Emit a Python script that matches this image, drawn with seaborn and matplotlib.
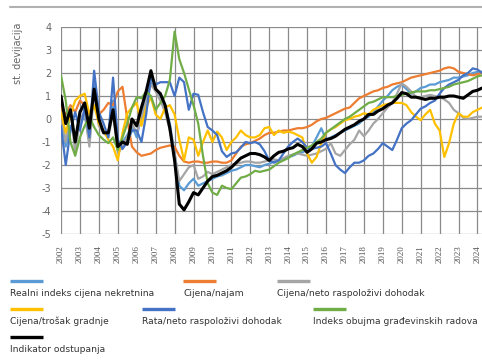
import numpy as np
import pandas as pd
import matplotlib
matplotlib.use("Agg")
import matplotlib.pyplot as plt
from matplotlib.lines import Line2D
import seaborn as sns

# ---------------- data (quarterly, 2002Q1 .. 2024Q2) ----------------
start_period = "2002Q1"
n_quarters = 90

realni_indeks = [
    0.2, -1.2, -0.3, -0.8,
    -0.3, 0.2, -1.0, 1.5,
    -0.2, -0.5, -0.7, 0.8,
    -1.3, -1.0, -0.7, -0.3,
    -0.8, 0.2, 0.9, 1.6,
    1.3, 1.0, 0.6, -0.2,
    -1.5, -2.9, -3.1, -2.8,
    -2.6, -2.9, -2.8, -2.7,
    -2.6, -2.5, -2.45, -2.35,
    -2.25, -2.2, -2.1, -2.0,
    -2.0, -2.05, -2.1, -2.0,
    -1.95, -1.85, -1.8, -1.75,
    -1.65, -1.6, -1.5, -1.45,
    -1.35, -1.2, -0.8, -0.4,
    -0.9, -0.8, -0.7, -0.6,
    -0.5, -0.4, -0.3, -0.2,
    0.0, 0.1, 0.3, 0.55,
    0.8, 1.0, 1.25, 1.4,
    1.5, 1.3, 1.1, 1.2,
    1.35, 1.4, 1.5, 1.5,
    1.6, 1.65, 1.7, 1.8,
    1.8, 1.85, 1.9, 2.0,
    2.05, 2.05,
]
cijena_najam = [
    0.5, 0.2, 0.6, 0.3,
    0.8, 0.6, 0.3, 0.5,
    0.2, 0.4, 0.7, 0.6,
    1.2, 1.4, 0.0, -1.2,
    -1.45, -1.6, -1.55, -1.5,
    -1.35, -1.25, -1.2, -1.15,
    -1.2, -1.6, -1.85, -1.9,
    -1.85, -1.85, -1.9, -1.9,
    -1.85, -1.85, -1.9, -1.9,
    -1.8, -1.5, -1.2, -1.1,
    -1.05, -0.95, -0.85, -0.7,
    -0.6, -0.6, -0.55, -0.5,
    -0.5, -0.45, -0.4, -0.4,
    -0.35, -0.25, -0.1, 0.0,
    0.05, 0.15, 0.25, 0.35,
    0.45, 0.5, 0.7, 0.9,
    1.0, 1.1, 1.2, 1.25,
    1.35, 1.4, 1.5, 1.55,
    1.6, 1.7, 1.8, 1.85,
    1.9, 1.95, 2.0, 2.05,
    2.1, 2.2, 2.25, 2.2,
    2.05, 2.0, 1.95, 1.9,
    1.95, 2.0,
]
cijena_dohodak = [
    0.0, -1.0, 0.5, -1.5,
    0.0, 0.3, -1.2, 1.2,
    -0.3, -0.6, -0.8, 0.3,
    -1.5, -1.2, -0.8, -0.2,
    -0.6, 0.0, 0.8, 1.5,
    1.2, 0.8, 0.3, -0.5,
    -1.5, -2.7, -2.4, -2.1,
    -2.0, -2.6, -2.5, -2.3,
    -2.4, -2.3, -2.2, -2.1,
    -2.0, -1.95, -1.9, -1.85,
    -1.85, -1.9, -1.9, -1.85,
    -1.8, -1.75, -1.8, -1.7,
    -1.6, -1.55, -1.5, -1.55,
    -1.6, -1.55, -1.5, -1.4,
    -1.3, -1.05, -1.5, -1.6,
    -1.35, -1.1, -0.9, -0.5,
    -0.75, -0.5, -0.2, 0.0,
    0.25, 0.5, 0.7, 1.1,
    1.55, 1.4, 1.2, 0.95,
    0.95, 1.0, 1.05, 1.0,
    0.95, 0.85, 0.7, 0.4,
    0.25, 0.05, 0.0, 0.05,
    0.1, 0.1,
]
cijena_trosak = [
    0.3, -0.6, 0.2, 0.8,
    1.0, 1.1, 0.2, 0.6,
    -0.2, -0.5, -0.9, -1.2,
    -1.8, -0.6, 0.25, 0.5,
    0.7, -0.3, 0.5, 0.95,
    0.2, 0.0, 0.5, 0.6,
    0.2, -0.9, -1.8, -0.8,
    -0.9, -1.6, -1.0, -0.5,
    -1.0, -0.55, -0.8, -1.35,
    -1.0, -0.8, -0.5, -0.7,
    -0.8, -0.8, -0.7, -0.4,
    -0.35, -0.7, -0.5, -0.6,
    -0.55, -0.6, -0.7, -0.8,
    -1.5, -1.9, -1.65, -1.05,
    -0.6, -0.45, -0.35, -0.2,
    -0.05, 0.0, 0.1, 0.15,
    0.25, 0.2, 0.4, 0.5,
    0.6, 0.65, 0.7, 0.7,
    0.7, 0.6, 0.3, 0.1,
    -0.05, 0.2, 0.4, -0.2,
    -0.5, -1.65, -1.05, -0.2,
    0.25, 0.1, 0.1, 0.3,
    0.4, 0.5,
]
rata_dohodak = [
    -0.3, -2.0, -0.5, 0.3,
    -0.5, 0.5, -0.8, 2.1,
    0.3, -0.2, -0.8, 1.8,
    -0.9, -1.3, -1.0, -0.5,
    -0.5, -1.0, 0.2, 1.8,
    1.5, 1.6, 1.6, 1.6,
    1.0, 1.8, 1.6, 0.4,
    1.1, 1.05, 0.3, -0.35,
    -0.5, -0.7, -1.4, -1.65,
    -1.5, -1.45, -1.25, -1.0,
    -1.05, -1.0, -1.1, -1.4,
    -1.8, -1.9, -1.8, -1.5,
    -1.2, -1.0, -0.85, -1.0,
    -1.25, -1.3, -1.25, -1.2,
    -1.05, -1.5, -2.0, -2.2,
    -2.35, -2.1, -1.9, -1.9,
    -1.8, -1.6, -1.5, -1.3,
    -1.05, -1.2, -1.35, -0.9,
    -0.4, -0.2, -0.05, 0.2,
    0.45, 0.55, 0.7, 0.8,
    1.1, 1.35, 1.5, 1.6,
    1.7, 1.9, 2.0, 2.2,
    2.15, 2.0,
]
gradjevinski_radovi = [
    1.9, 0.8, -1.0, -1.6,
    -0.8, -0.3, 0.1, -0.35,
    -0.7, -0.9, -1.05, -0.8,
    -1.35, -0.8, -0.2, 0.5,
    0.95, 0.9, 1.2, 1.0,
    0.4, 0.7, 1.0, 1.7,
    3.8, 2.6, 2.0, 1.3,
    0.6, -0.2, -1.6, -2.8,
    -3.2, -3.3, -2.9, -3.0,
    -3.05, -2.8, -2.55, -2.5,
    -2.4, -2.25, -2.3, -2.25,
    -2.2, -2.05, -1.9, -1.8,
    -1.7, -1.55, -1.45, -1.35,
    -1.25, -1.15, -1.0, -0.85,
    -0.6, -0.45, -0.3, -0.15,
    0.0, 0.1, 0.25, 0.4,
    0.55, 0.7, 0.75, 0.85,
    0.95, 0.95, 0.95, 1.0,
    1.05, 1.1, 1.15, 1.2,
    1.2, 1.2, 1.25, 1.25,
    1.3, 1.35, 1.4, 1.5,
    1.55, 1.6, 1.65, 1.75,
    1.85, 1.9,
]
indikator = [
    1.0, -0.2, 0.4, -1.0,
    0.3, 0.7, -0.4, 1.3,
    0.0, -0.6, -0.6, 0.4,
    -1.2, -1.0, -1.1, 0.0,
    -0.3, 0.5, 1.2, 2.1,
    1.3, 1.1, 0.6, -0.4,
    -1.8, -3.7, -3.95, -3.6,
    -3.2, -3.3, -3.0, -2.7,
    -2.5, -2.45, -2.35, -2.25,
    -2.1, -1.9, -1.7, -1.6,
    -1.5, -1.5, -1.55, -1.65,
    -1.8, -1.6, -1.45, -1.4,
    -1.3, -1.25, -1.1, -1.2,
    -1.45, -1.3, -1.05, -1.0,
    -0.9, -0.85, -0.75, -0.6,
    -0.45, -0.35, -0.25, -0.1,
    0.0, 0.2, 0.2, 0.35,
    0.45, 0.6, 0.7, 0.9,
    1.15, 1.1, 0.95, 0.95,
    0.9, 0.85, 0.9, 0.9,
    0.95, 0.95, 1.0, 1.0,
    0.95, 0.9, 1.05, 1.2,
    1.25, 1.35,
]

series_names = [
    "Realni indeks cijena nekretnina",
    "Cijena/najam",
    "Cijena/neto raspoloživi dohodak",
    "Cijena/trošak gradnje",
    "Rata/neto raspoloživi dohodak",
    "Indeks obujma građevinskih radova",
    "Indikator odstupanja",
]
series_values = [realni_indeks, cijena_najam, cijena_dohodak, cijena_trosak,
                 rata_dohodak, gradjevinski_radovi, indikator]
series_colors = ["#5b9bd5", "#ed7d31", "#a5a5a5", "#ffc000",
                 "#4472c4", "#70ad47", "#000000"]
year_ticks = list(range(2002, 2025))
y_ticks = [4, 3, 2, 1, 0, -1, -2, -3, -4, -5]

# ---------------- build table ----------------
periods = pd.period_range(start_period, periods=n_quarters, freq="Q")
t = periods.year + (periods.quarter - 1) / 4.0
frames = []
for name, vals in zip(series_names, series_values):
    frames.append(pd.DataFrame({"t": t, "v": vals, "serija": name}))
df = pd.concat(frames, ignore_index=True)

# ---------------- figure ----------------
sns.set_theme(style="white")
plt.rcParams["font.family"] = ["DejaVu Sans"]
plt.rcParams["axes.unicode_minus"] = False

W, H = 482, 360
fig = plt.figure(figsize=(W / 100, H / 100), dpi=100)
ax = fig.add_axes([61 / W, 1 - 234 / H, (W - 61) / W, (234 - 27) / H])

for name, color in zip(series_names, series_colors):
    sub = df[df["serija"] == name]
    lw = 2.2 if color == "#000000" else 1.6
    sns.lineplot(data=sub, x="t", y="v", color=color, lw=lw, ax=ax,
                 legend=False, sort=False, zorder=5 if color == "#000000" else 3)

ax.set_xlim(2002, 2024.24)
ax.set_ylim(-5, 4)
ax.set_xticks(year_ticks)
ax.set_xticklabels([str(y) for y in year_ticks], rotation=90,
                   fontsize=6.5, color="#555555", family="Liberation Serif")
ax.set_yticks(y_ticks)
ax.set_yticklabels([str(v) for v in y_ticks], fontsize=7, color="#666666")
ax.grid(True, color="#8a8a8a", lw=0.9)
ax.set_axisbelow(True)
for s in ax.spines.values():
    s.set_visible(False)
ax.tick_params(axis="x", length=6, color="#8a8a8a", width=0.9, pad=2)
ax.tick_params(axis="y", length=0, pad=7)
ax.set_xlabel("")
ax.set_ylabel("")

fig.text(18 / W, 1 - 53 / H, "st. devijacija", rotation=90, ha="center",
         va="center", fontsize=7, color="#666666")

# top separator line
fig.add_artist(Line2D([10 / W, 1.0], [1 - 7 / H, 1 - 7 / H], color="#b0b0b0",
                      lw=1.5, transform=fig.transFigure))

# ---------------- legend (swatch above label) ----------------
legend_pos = [(10, 281), (183, 281), (277, 281),
              (10, 309), (142, 309), (313, 309),
              (10, 337)]
for (x0, y0), name, color in zip(legend_pos, series_names, series_colors):
    fig.add_artist(Line2D([x0 / W, (x0 + 33) / W], [1 - y0 / H, 1 - y0 / H],
                          color=color, lw=2.4, transform=fig.transFigure,
                          solid_capstyle="butt"))
    fig.text(x0 / W, 1 - (y0 + 12) / H, name, ha="left", va="center",
             fontsize=6.6, color="#333333")

fig.savefig("out.png", dpi=100)
